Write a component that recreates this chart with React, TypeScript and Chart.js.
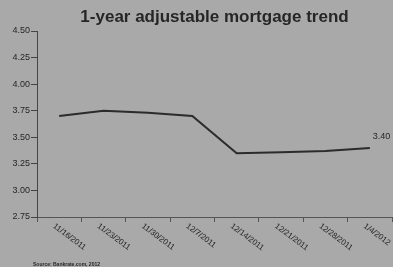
import React, { useEffect, useRef } from "react";
import { Chart, registerables } from "chart.js";

Chart.register(...registerables);

const TITLE = "1-year adjustable mortgage trend";
const SOURCE = "Source: Bankrate.com, 2012";
const dates = ["11/16/2011", "11/23/2011", "11/30/2011", "12/7/2011", "12/14/2011", "12/21/2011", "12/28/2011", "1/4/2012"];
const rates = [3.70, 3.75, 3.73, 3.70, 3.35, 3.36, 3.37, 3.40];
const yMin = 2.75;
const yMax = 4.5;
const yStep = 0.25;

const BG = "#a9a9a9";
const INK = "#262626";
const FONT = "'Liberation Sans', Arial, sans-serif";

const customLabels = {
  id: "customLabels",
  afterDraw(chart: any) {
    const ctx = chart.ctx;
    const xs = chart.scales.x;
    const area = chart.chartArea;
    ctx.save();
    // title centred over the plot area
    ctx.fillStyle = INK;
    ctx.font = `bold 17px ${FONT}`;
    ctx.textAlign = "center";
    ctx.textBaseline = "middle";
    ctx.fillText(TITLE, (area.left + area.right) / 2, 17);

    ctx.font = `8px ${FONT}`;
    ctx.textAlign = "left";
    ctx.textBaseline = "top";
    dates.forEach((d, i) => {
      const x = xs.getPixelForValue(i);
      ctx.save();
      ctx.translate(x - 3, xs.top + 5);
      ctx.rotate(0.64);
      ctx.fillText(d, 0, 0);
      ctx.restore();
    });
    // value label for last point
    const meta = chart.getDatasetMeta(0);
    const last = meta.data[meta.data.length - 1];
    ctx.textBaseline = "middle";
    ctx.font = `9px ${FONT}`;
    ctx.fillText(rates[rates.length - 1].toFixed(2), last.x + 3, last.y - 11);
    // source
    ctx.font = `bold 5px ${FONT}`;
    ctx.fillText(SOURCE, 33, 265);
    ctx.restore();
  },
};

export default function App() {
  const ref = useRef<HTMLCanvasElement>(null);
  useEffect(() => {
    const chart = new Chart(ref.current!, {
      type: "line",
      data: {
        labels: dates,
        datasets: [
          {
            data: rates,
            borderColor: "#2b2b2b",
            borderWidth: 2,
            pointRadius: 0,
            tension: 0,
            fill: false,
          },
        ],
      },
      options: {
        animation: false,
        responsive: false,
        devicePixelRatio: 1,
        layout: { padding: { left: 0, right: 1, top: 31, bottom: 45 } },
        plugins: {
          legend: { display: false },
          tooltip: { enabled: false },
          title: { display: false },
        },
        scales: {
          x: {
            offset: true,
            grid: { offset: true, drawOnChartArea: false, color: "#555", tickLength: 5 },
            border: { color: "#555", width: 1 },
            ticks: { display: false },
          },
          y: {
            min: yMin,
            max: yMax,
            afterFit: (s: any) => {
              s.width = 37;
            },
            grid: { drawOnChartArea: false, color: "#444", tickLength: 6 },
            border: { color: "#444", width: 1 },
            ticks: {
              stepSize: yStep,
              padding: 1,
              color: INK,
              font: { family: FONT, size: 9 },
              callback: (v: any) => Number(v).toFixed(2),
            },
          },
        },
      },
      plugins: [
        {
          id: "bg",
          beforeDraw(c: any) {
            const ctx = c.ctx;
            ctx.save();
            ctx.fillStyle = BG;
            ctx.fillRect(0, 0, c.width, c.height);
            ctx.restore();
          },
        },
        customLabels,
      ],
    });
    return () => chart.destroy();
  }, []);
  return (
    <div style={{ position: "fixed", left: 0, top: 0, width: 393, height: 267, background: BG }}>
      <canvas ref={ref} width={393} height={267} style={{ display: "block" }} />
    </div>
  );
}
